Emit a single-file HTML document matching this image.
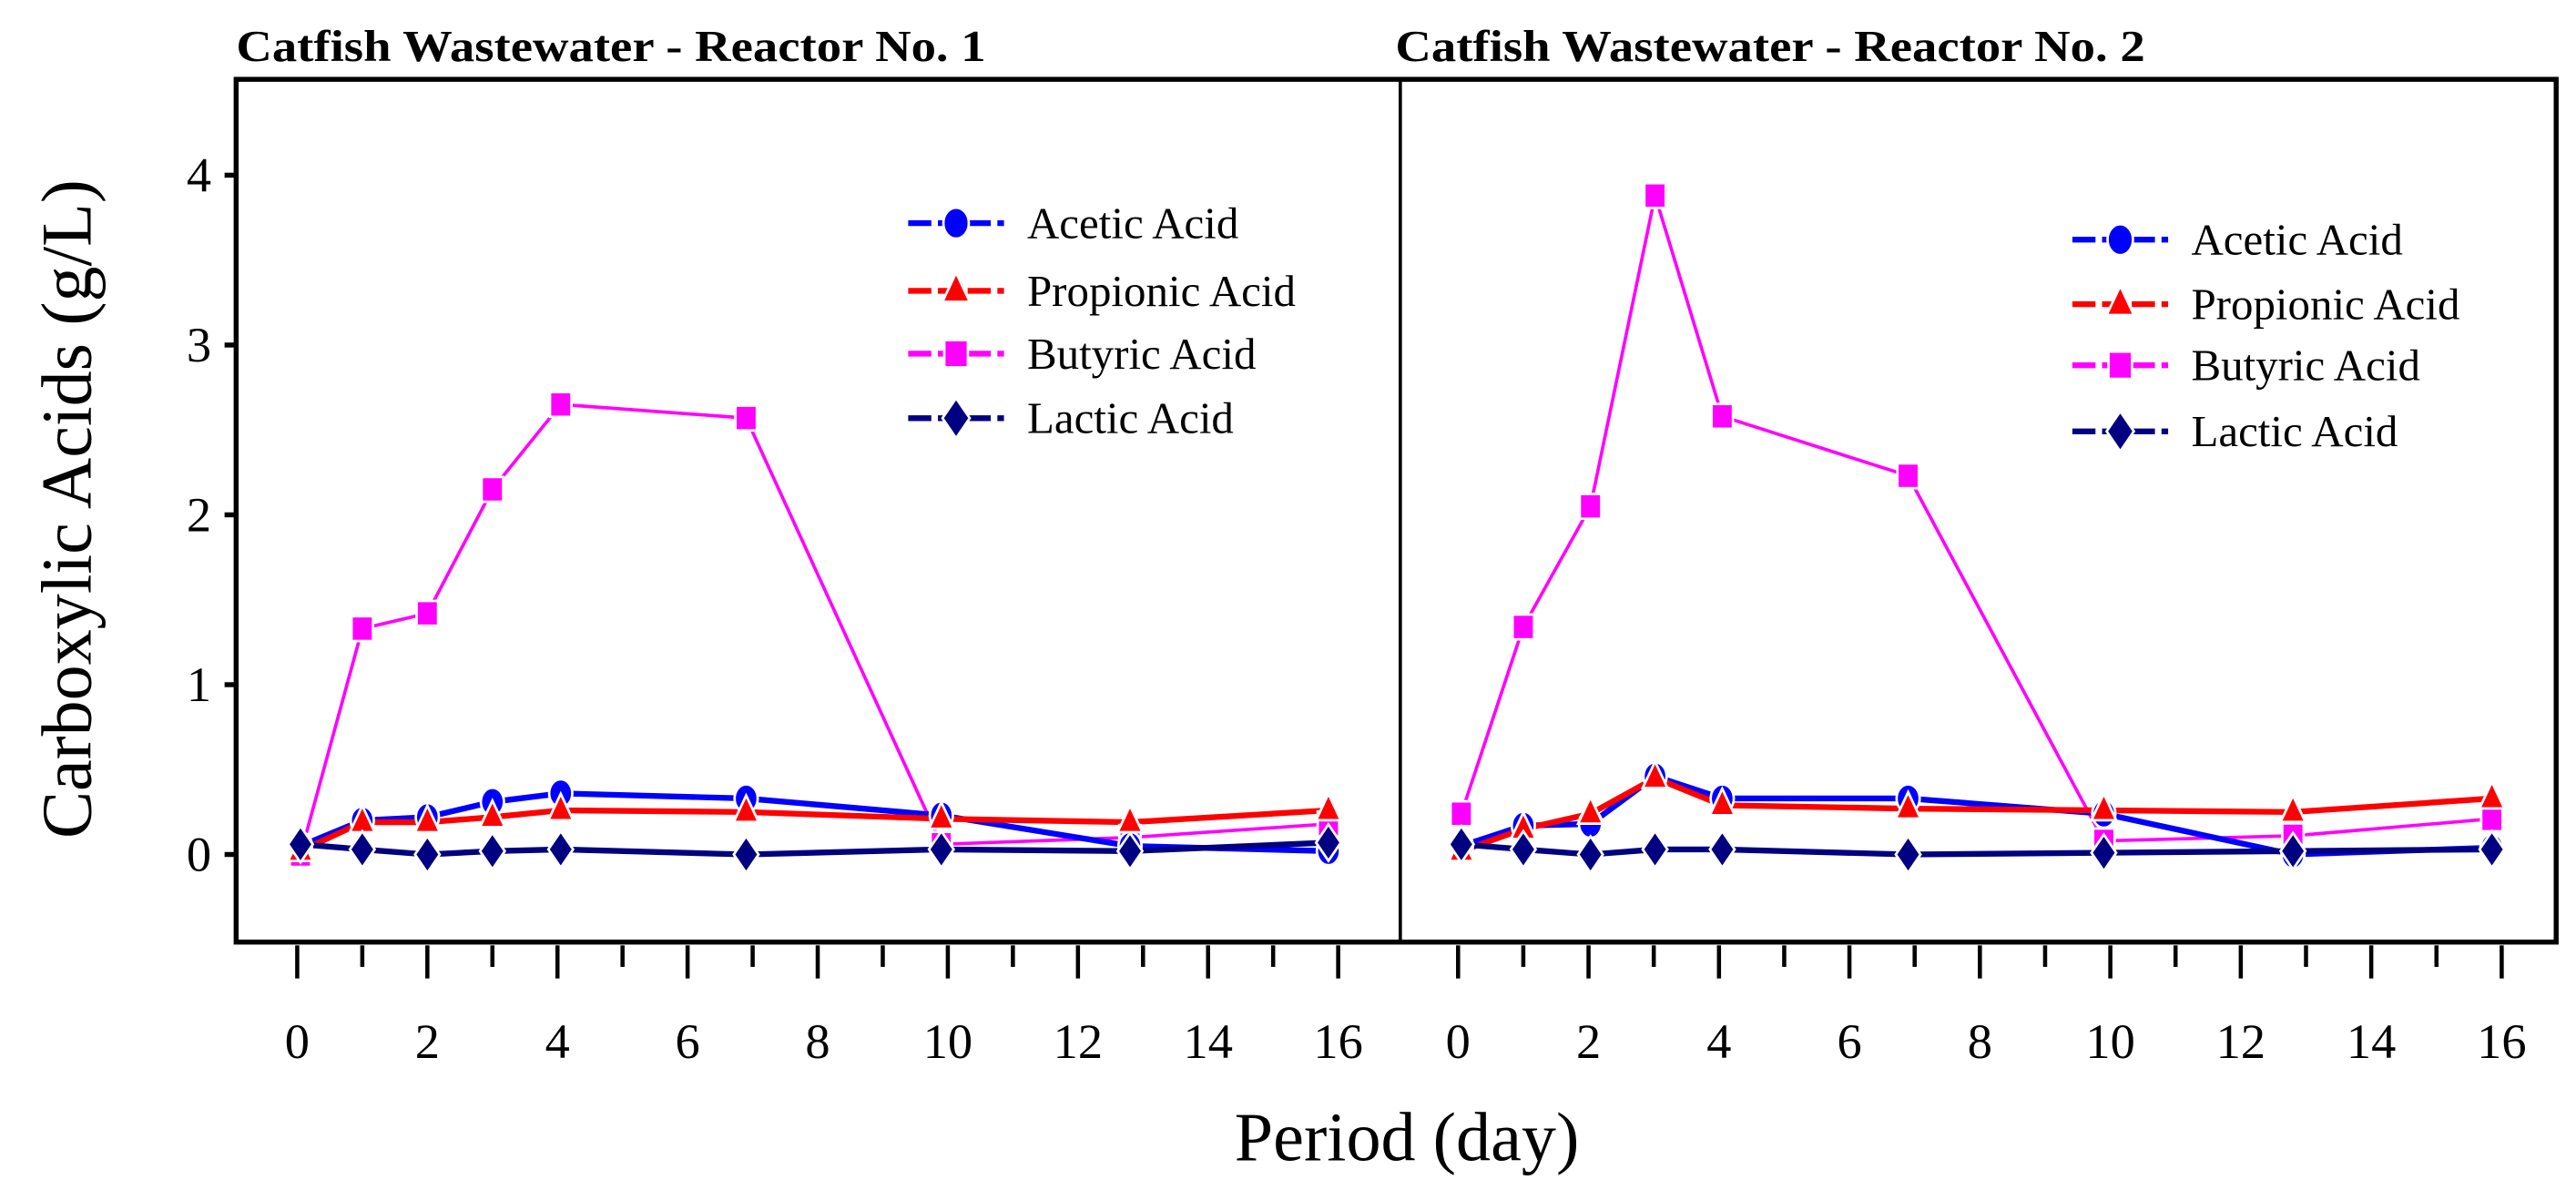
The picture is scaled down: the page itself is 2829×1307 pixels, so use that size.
<!DOCTYPE html>
<html><head><meta charset="utf-8"><style>
html,body{margin:0;padding:0;background:#fff;}
svg{display:block;}
text{font-family:"Liberation Serif",serif;fill:#000;}
</style></head><body>
<svg id="chart" width="2829" height="1307" viewBox="0 0 1560 720" preserveAspectRatio="none" xmlns="http://www.w3.org/2000/svg">
</svg>
<script>
const days1 = [0.05, 1, 2, 3, 4.05, 6.9, 9.9, 12.8, 15.85];
const days2 = [0.05, 1, 2.03, 3.02, 4.05, 6.9, 9.9, 12.8, 15.85];
const acetic1 = [0.05, 0.2, 0.22, 0.31, 0.36, 0.33, 0.23, 0.05, 0.02];
const propionic1 = [0.02, 0.19, 0.19, 0.22, 0.26, 0.25, 0.21, 0.19, 0.26];
const butyric1 = [0.0, 1.33, 1.42, 2.15, 2.65, 2.57, 0.06, 0.1, 0.18];
const lactic1 = [0.06, 0.03, 0.0, 0.02, 0.03, 0.0, 0.03, 0.02, 0.07];
const acetic2 = [0.05, 0.17, 0.18, 0.46, 0.33, 0.33, 0.24, 0.0, 0.04];
const propionic2 = [0.02, 0.15, 0.24, 0.45, 0.29, 0.27, 0.26, 0.25, 0.33];
const butyric2 = [0.24, 1.34, 2.05, 3.88, 2.58, 2.23, 0.08, 0.11, 0.21];
const lactic2 = [0.06, 0.03, 0.0, 0.03, 0.03, 0.0, 0.01, 0.02, 0.03];
const xTicks = [0, 2, 4, 6, 8, 10, 12, 14, 16];
const yTicks = [0, 1, 2, 3, 4];
const seriesNames = ["Acetic Acid", "Propionic Acid", "Butyric Acid", " Lactic Acid"];

const NS = "http://www.w3.org/2000/svg";
const svg = document.getElementById("chart");
function mk(tag, attrs, parent) {
  const e = document.createElementNS(NS, tag);
  for (const k in attrs) e.setAttribute(k, attrs[k]);
  (parent || svg).appendChild(e);
  return e;
}
const Y0 = 517, YU = 102.75;
function yS(v) { return Y0 - v * YU; }
const panels = [
  {x0: 180, u: 39.4, lx: 550, ly: [135, 176, 214, 253], title: "Catfish Wastewater - Reactor No. 1", tx: 143,
   days: days1, data: [acetic1, propionic1, butyric1, lactic1]},
  {x0: 883, u: 39.5, lx: 1255, ly: [145, 184, 221, 261], title: "Catfish Wastewater - Reactor No. 2", tx: 845,
   days: days2, data: [acetic2, propionic2, butyric2, lactic2]}
];
const colors = ["#0000ff", "#ff0000", "#ff00ff", "#000080"];
const widths = [3.5, 3.5, 2, 3.5];
function marker(i, x, y, parent, s) {
  s = s || 1;
  let m;
  if (i === 0) m = mk("ellipse", {cx: x, cy: y, rx: 7*s, ry: 8.5*s, fill: colors[0], stroke: "#fff", "stroke-width": 1.5}, parent);
  else if (i === 1) m = mk("polygon", {points: `${x},${y-10*s} ${x-7.5*s},${y+6*s} ${x+7.5*s},${y+6*s}`, fill: colors[1], stroke: "#fff", "stroke-width": 1.5}, parent);
  else if (i === 2) m = mk("rect", {x: x-6.5*s, y: y-7.5*s, width: 13*s, height: 15*s, fill: colors[2], stroke: "#fff", "stroke-width": 1.5}, parent);
  else m = mk("polygon", {points: `${x},${y-11*s} ${x+7.5*s},${y} ${x},${y+11*s} ${x-7.5*s},${y}`, fill: colors[3], stroke: "#fff", "stroke-width": 1.5}, parent);
  
  
  return m;
}
const frame = mk("rect", {x: 143, y: 48, width: 1405, height: 522, fill: "none", stroke: "#000", "stroke-width": 3});


const div = mk("line", {x1: 848, y1: 48, x2: 848, y2: 570, stroke: "#000", "stroke-width": 2});


yTicks.forEach(v => {
  const t = mk("line", {x1: 136, y1: yS(v), x2: 143, y2: yS(v), stroke: "#000", "stroke-width": 3});
  
  
  const l = mk("text", {x: 128, y: yS(v) + 10, "text-anchor": "end", "font-size": 30});
  l.textContent = v;
  
  
});
const yt = mk("text", {x: 0, y: 0, "text-anchor": "middle", "font-size": 43, transform: "translate(55,308) rotate(-90)"});
yt.textContent = "Carboxylic Acids (g/L)";


const xt = mk("text", {x: 852, y: 702, "text-anchor": "middle", "font-size": 42});
xt.textContent = "Period (day)";



panels.forEach((p, pi) => {
  const xS = d => p.x0 + d * p.u;
  const g = mk("g", {});
  
  
  const title = mk("text", {x: p.tx, y: 37, "font-size": 27, "font-weight": "bold", textLength: 454, lengthAdjust: "spacingAndGlyphs"}, g);
  title.textContent = p.title;
  
  
  for (let d = 0; d <= 16; d++) {
    const major = d % 2 === 0;
    const t = mk("line", {x1: xS(d), y1: 572, x2: xS(d), y2: major ? 592 : 585, stroke: "#000", "stroke-width": 2.5}, g);
    
    
  }
  xTicks.forEach(d => {
    const l = mk("text", {x: xS(d), y: 640, "text-anchor": "middle", "font-size": 30}, g);
    l.textContent = d;
    
    
  });
  const order = [2, 0, 1, 3];
  order.forEach(i => {
    const pts = p.days.map((d, k) => xS(d) + "," + yS(p.data[i][k])).join(" ");
    const line = mk("polyline", {points: pts, fill: "none", stroke: colors[i], "stroke-width": widths[i]}, g);
    
    
  });
  order.forEach(i => {
    p.days.forEach((d, k) => marker(i, xS(d), yS(p.data[i][k]), g));
  });
  seriesNames.forEach((n, i) => {
    const y = p.ly[i];
    const ll = mk("line", {x1: p.lx, y1: y, x2: p.lx + 58, y2: y, stroke: colors[i], "stroke-width": 3.5, "stroke-dasharray": "14,4"}, g);
    
    
    marker(i, p.lx + 29, y, g, 1.1);
    const lt = mk("text", {x: p.lx + 72, y: y + 9, "font-size": 27, "xml:space": "preserve"}, g);
    lt.textContent = pi === 1 ? n.trim() : n;
    
    
  });
});
</script>
</body></html>
